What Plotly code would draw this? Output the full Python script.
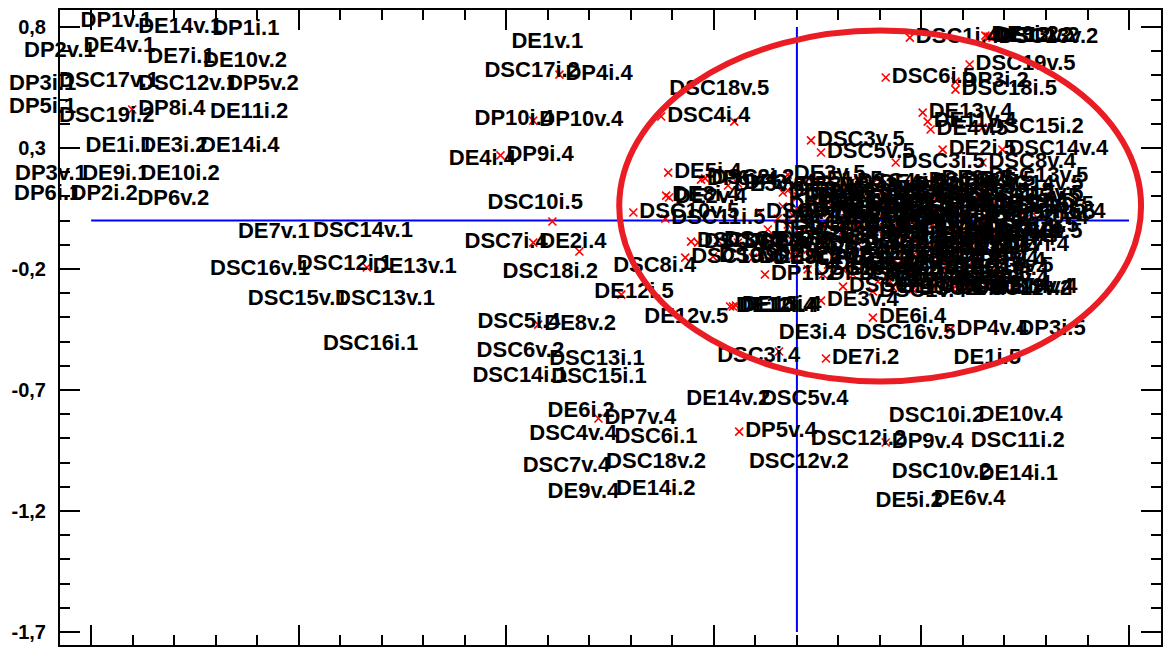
import plotly.graph_objects as go

# Sample labels and their scores on the first two components
labels = [
    # far-left group
    "DP1v.1", "DE14v.1", "DP1i.1", "DP2v.1", "DE4v.1", "DE7i.1", "DE10v.2",
    "DP3i.1", "DSC17v.1", "DSC12v.1", "DP5v.2", "DP5i.1", "DSC19i.2", "DP8i.4",
    "DE11i.2", "DE1i.1", "DE3i.2", "DE14i.4", "DP3v.1", "DE9i.1", "DE10i.2",
    "DP6i.1", "DP2i.2", "DP6v.2",
    "DE7v.1", "DSC14v.1", "DSC16v.1", "DSC12i.1", "DE13v.1", "DSC15v.1",
    "DSC13v.1", "DSC16i.1",
    # central group
    "DE1v.1", "DSC17i.2", "DP4i.4", "DP10i.4", "DP10v.4", "DE4i.4", "DP9i.4",
    "DSC10i.5", "DSC7i.4", "DE2i.4", "DSC18i.2", "DSC8i.4", "DE12i.5",
    "DE12v.5", "DSC5i.4", "DE8v.2", "DSC6v.2", "DSC13i.1", "DSC14i.1",
    "DSC15i.1", "DE6i.2", "DP7v.4", "DSC4v.4", "DSC6i.1", "DSC7v.4",
    "DSC18v.2", "DE9v.4", "DE14i.2", "DE14v.2", "DSC5v.4", "DP5v.4",
    "DSC12v.2",
    # lower-right group
    "DE3v.4", "DE6i.4", "DE3i.4", "DSC16v.5", "DP4v.4", "DP3i.5", "DE7i.2",
    "DE1i.5", "DSC10i.2", "DE10v.4", "DSC12i.2", "DP9v.4", "DSC11i.2",
    "DSC10v.2", "DE14i.1", "DE5i.2", "DE6v.4", "DSC3i.4",
    # edges of the right cluster
    "DP1i.2", "DP3i.4", "DE12i.4", "DE10i.4", "DE13i.4", "DSC19v.2",
    "DSC9i.5", "DSC3v.2", "DSC9v.2", "DSC18v.5", "DSC4i.4", "DSC3v.5",
    "DSC5v.5", "DE5i.4", "DE3v.5", "DP6v.4", "DP2v.4", "DE8i.4", "DE2v.4",
    "DSC10v.5", "DSC11i.5", "DSC9v.5", "DE8v.5", "DSC1i.4", "DE13i.2",
    "DE12v.2", "DSC13v.2", "DE9i.2", "DSC19v.5", "DSC6i.5", "DP3i.2",
    "DSC18i.5", "DE13v.4", "DE11v.4", "DSC15i.2", "DE4v.5", "DSC14v.4",
    "DE2i.5", "DSC3i.5", "DSC8v.4", "DE9v.5", "DSC13v.5", "DP10i.5",
    "DP6i.4", "DSC14v.2", "DP7i.4", "DSC17v.5", "DE14v.4", "DSC19v.4",
    "DP2i.4",
    "DSC2i.2", "DE3v.2", "DSC7i.2", "DSC5v.2", "DE7v.2", "DSC9i.2", "DE8i.2",
    # dense core of the right cluster
    "DE2v.5", "DSC2v.5", "DE4i.5", "DSC7i.5", "DE9i.5", "DP1v.5", "DSC3i.2",
    "DE11i.5", "DSC8v.5", "DP5i.5", "DSC12v.5", "DE1v.2", "DSC4v.2",
    "DE5v.2", "DP2i.5", "DSC9v.4", "DE10i.5", "DSC16i.5", "DP4v.5",
    "DSC1v.5", "DE6v.5", "DSC15v.5", "DE7v.5", "DSC2i.4", "DE11v.5",
    "DSC5i.5", "DP8v.5", "DE13v.5", "DSC13i.5", "DE2i.2", "DSC6v.4",
    "DP9i.5", "DE4v.2", "DSC16v.4", "DP10v.5", "DSC7v.2", "DE5v.5",
    "DSC8i.2", "DP7v.5", "DE14v.5", "DSC17i.4", "DE9v.2", "DSC1v.2",
    "DE3i.5", "DSC11v.5", "DP4i.5", "DE11i.4", "DSC2v.2", "DE13i.5",
    "DSC4i.2", "DE6v.2", "DSC14i.5", "DE8i.5", "DSC9i.4", "DE10v.5",
    "DSC5i.2", "DP6i.5",
    "DE1v.5", "DSC4v.5", "DE5i.5", "DSC6v.5", "DP2v.5", "DSC14v.5",
    "DE1i.4", "DSC7v.5", "DP3v.5", "DSC8i.5", "DE6i.5", "DSC12i.5", "DP5v.5",
    "DE7i.5", "DSC15i.5", "DP6v.5", "DSC17i.5", "DE14i.5", "DSC19i.5",
    "DP7i.5",
    "DSC1i.5", "DP8i.5", "DSC2i.5", "DE1v.4", "DSC4i.5", "DP9v.5",
    "DSC10i.4", "DP1i.5",
    "DE4v.4", "DSC10v.4", "DE5v.4", "DSC11i.4", "DE7i.4", "DSC11v.4",
    "DE7v.4", "DSC12i.4",
    "DE8v.4", "DSC12v.4", "DE9i.4", "DSC13i.4", "DE12v.4", "DSC13v.4",
    "DP1i.4", "DSC14i.4",
    "DP1v.4", "DSC15i.4", "DP3v.4", "DSC15v.4", "DP5i.4",
    "DSC16i.4", "DP8v.4", "DSC17v.4", "DSC18i.4", "DSC18v.4", "DSC19i.4",
    "DSC1v.4", "DSC2v.4", "DSC3v.4", "DSC11v.2",
]

pc1 = [
    -1.740, -1.601, -1.423, -1.877, -1.733, -1.579, -1.445,
    -1.913, -1.793, -1.601, -1.387, -1.913, -1.793, -1.601,
    -1.428, -1.728, -1.596, -1.452, -1.897, -1.736, -1.596,
    -1.901, -1.764, -1.603,
    -1.361, -1.180, -1.428, -1.219, -1.036, -1.337,
    -1.127, -1.156,
    -0.702, -0.767, -0.572, -0.791, -0.635, -0.853, -0.714,
    -0.589, -0.815, -0.635, -0.524, -0.457, -0.423,
    -0.382, -0.784, -0.623, -0.786, -0.611, -0.796,
    -0.606, -0.615, -0.478, -0.659, -0.454, -0.675,
    -0.474, -0.615, -0.450, -0.281, -0.101, -0.139,
    -0.130,
    0.058, 0.183, -0.058, 0.127, 0.370, 0.519, 0.070,
    0.363, 0.207, 0.423, 0.019, 0.214, 0.404,
    0.214, 0.423, 0.175, 0.315, -0.043,
    -0.077, 0.063, -0.161, -0.154, -0.147, -0.269,
    -0.106, -0.255, -0.142, -0.151, -0.327, 0.034,
    0.058, -0.310, -0.022, -0.231, -0.142, -0.315, -0.308,
    -0.394, -0.317, -0.089, -0.022, 0.272, 0.459,
    0.464, 0.471, 0.454, 0.416, 0.214, 0.382,
    0.382, 0.303, 0.315, 0.447, 0.322, 0.495,
    0.351, 0.238, 0.447, 0.334, 0.447, 0.214,
    0.567, 0.387, 0.375, 0.363, 0.459, 0.411,
    0.224,
    -0.221, -0.166, -0.238, -0.190, -0.106, -0.202, -0.070,
    -0.010, 0.087, 0.183, 0.267, 0.351, 0.002, 0.063,
    0.159, 0.243, 0.327, 0.435, -0.034, 0.038,
    0.111, 0.195, 0.279, 0.375, 0.471, -0.010,
    0.075, 0.159, 0.303, 0.411, -0.022, 0.063,
    0.147, 0.243, 0.327, 0.435, -0.010, 0.087,
    0.183, 0.267, 0.351, 0.471, -0.034, 0.063,
    0.147, 0.231, 0.315, 0.411, -0.010, 0.099,
    0.183, 0.279, 0.375, 0.075, 0.159, 0.243,
    0.135, 0.219, 0.303, 0.387, 0.111, 0.231,
    0.327, 0.375,
    0.019, 0.130, 0.219, 0.303, 0.387, 0.435,
    -0.034, 0.034, 0.111, 0.202, 0.291, 0.375, 0.495,
    0.002, 0.075, 0.154, 0.231, 0.327, 0.423,
    0.519,
    -0.046, 0.026, 0.115, 0.195, 0.267, 0.351,
    0.459, 0.543,
    -0.070, 0.014, 0.111, 0.207, 0.291, 0.387,
    0.435, 0.387,
    -0.058, 0.026, 0.111, 0.195, 0.279, 0.303,
    0.447, 0.339,
    0.038, 0.135, 0.231, 0.327, 0.423,
    0.026, 0.111, 0.195, 0.267, 0.351, 0.363,
    0.183, 0.279, 0.387, 0.411,
]

pc2 = [
    0.822, 0.798, 0.789, 0.698, 0.719, 0.674, 0.657,
    0.562, 0.574, 0.562, 0.562, 0.467, 0.430, 0.459,
    0.446, 0.306, 0.306, 0.306, 0.190, 0.190, 0.190,
    0.107, 0.107, 0.087,
    -0.050, -0.045, -0.202, -0.182, -0.194, -0.326,
    -0.326, -0.512,
    0.736, 0.616, 0.603, 0.417, 0.413, 0.252, 0.269,
    -0.004, -0.091, -0.091, -0.128, -0.190, -0.306,
    -0.401, -0.421, -0.430, -0.541, -0.574, -0.645,
    -0.649, -0.789, -0.818, -0.884, -0.897, -1.017,
    -1.000, -1.124, -1.112, -0.740, -0.740, -0.872,
    -1.000,
    -0.331, -0.401, -0.467, -0.467, -0.450, -0.450, -0.570,
    -0.570, -0.810, -0.806, -0.905, -0.917, -0.913,
    -1.041, -1.050, -1.161, -1.153, -0.541,
    -0.223, -0.223, -0.355, -0.355, -0.351, -0.153,
    -0.153, -0.087, -0.091, 0.409, 0.430, 0.331,
    0.281, 0.198, 0.190, 0.169, 0.153, 0.103, 0.095,
    0.033, 0.008, 0.033, 0.124, 0.756, 0.760,
    0.760, 0.756, 0.764, 0.645, 0.591, 0.574,
    0.541, 0.446, 0.409, 0.384, 0.376, 0.293,
    0.293, 0.240, 0.240, 0.169, 0.182, 0.025,
    0.033, -0.050, -0.099, -0.190, -0.277, -0.277,
    -0.252,
    0.174, 0.145, -0.091, -0.083, -0.095, -0.149, -0.157,
    0.145, 0.140, 0.153, 0.145, 0.136, 0.099, 0.107,
    0.095, 0.103, 0.099, 0.107, 0.058, 0.066,
    0.062, 0.058, 0.066, 0.058, 0.062, 0.021,
    0.029, 0.021, 0.029, 0.021, -0.017, -0.021,
    -0.012, -0.021, -0.017, -0.025, -0.058, -0.062,
    -0.054, -0.062, -0.058, -0.050, -0.103, -0.099,
    -0.095, -0.103, -0.099, -0.103, -0.145, -0.140,
    -0.136, -0.145, -0.140, -0.182, -0.186, -0.178,
    -0.223, -0.227, -0.219, -0.227, -0.273, -0.277,
    -0.269, -0.281,
    0.165, 0.157, 0.128, 0.161, 0.165, 0.149,
    0.116, 0.087, 0.116, 0.112, 0.091, 0.116, 0.095,
    0.045, 0.074, 0.045, 0.074, 0.045, 0.074,
    0.050,
    0.008, 0.037, 0.008, 0.033, 0.008, 0.037,
    0.008, 0.029,
    -0.037, -0.037, -0.041, -0.033, -0.037, -0.041,
    -0.033, -0.062,
    -0.083, -0.120, -0.079, -0.120, -0.079, -0.120,
    -0.079, -0.112,
    -0.161, -0.161, -0.161, -0.161, -0.169,
    -0.202, -0.202, -0.252, -0.202, -0.244, -0.202,
    -0.293, -0.285, -0.264, -0.285,
]

tick_vals = [-1.7, -1.2, -0.7, -0.2, 0.3, 0.8]
tick_text = ["-1,7", "-1,2", "-0,7", "-0,2", "0,3", "0,8"]

# crosses that sit underneath neighbouring labels and are not drawn
no_cross = {
    "DP1v.1", "DE14v.1", "DP1i.1", "DE4v.1", "DE7i.1", "DE10v.2",
    "DSC12v.1", "DP5v.2", "DE11i.2", "DE1i.1", "DE3i.2", "DE14i.4",
    "DE9i.1", "DE10i.2", "DP2i.2", "DP6v.2",
    "DE7v.1", "DSC14v.1", "DSC16v.1", "DSC12i.1", "DSC15v.1", "DSC13v.1",
    "DSC16i.1", "DE1v.1", "DSC17i.2", "DP10i.4", "DE4i.4", "DSC7i.4",
    "DSC8i.4", "DE12v.5", "DSC5i.4", "DSC6v.2", "DSC13i.1", "DSC14i.1",
    "DSC15i.1", "DE6i.2", "DSC4v.4", "DSC6i.1", "DSC7v.4", "DSC18v.2",
    "DE9v.4", "DE14i.2", "DE14v.2", "DSC5v.4", "DSC12v.2",
    "DE3i.4", "DSC16v.5", "DP3i.5", "DE1i.5", "DSC10i.2", "DE10v.4",
    "DSC12i.2", "DSC11i.2", "DSC10v.2", "DE14i.1", "DE5i.2", "DE6v.4",
}

# labels displaced from their cross: (right, down) shift in pixels
label_nudge = {
    "DSC10i.5": (-65, -18),
    "DSC18v.5": (-65, -32),
    "DE12i.5": (-27, -2),
    "DSC18i.2": (-77, 21),
    "DSC3i.4": (-62, 5),
}

# reference axes through the origin and the highlighted group
axis_span = (-1.7, 0.8)
group_x = (-0.428, 0.829)
group_y = (-0.665, 0.785)

x_range = [-1.775, 0.877]
y_range = [-1.754, 0.87]
fig_w, fig_h = 1164, 647
margins = dict(l=60, r=1, t=10, b=2)
x_per_px = (x_range[1] - x_range[0]) / (fig_w - margins["l"] - margins["r"])
y_per_px = (y_range[1] - y_range[0]) / (fig_h - margins["t"] - margins["b"])

label_font = "Liberation Sans, Arial, sans-serif"
cross_red = "#ff0000"
text_style = dict(family=label_font, size=22, color="#000000", weight="bold")

cross_colors = ["rgba(0,0,0,0)" if name in no_cross else cross_red
                for name in labels]

main_text = []
nudged_x, nudged_y, nudged_text = [], [], []
margin_labels = []  # scores left of the frame: their names hang in the margin
for name, x, y in zip(labels, pc1, pc2):
    if name in label_nudge:
        dx, dy = label_nudge[name]
        nudged_x.append(x + dx * x_per_px)
        nudged_y.append(y - dy * y_per_px)
        nudged_text.append(name)
        main_text.append("")
    elif x < x_range[0]:
        margin_labels.append((name, x, y))
        main_text.append("")
    else:
        main_text.append(name)

fig = go.Figure()

# red crosses, clipped to the plotting frame
fig.add_trace(go.Scatter(
    x=pc1, y=pc2, mode="markers",
    marker=dict(symbol="x-thin", size=8, color=cross_colors,
                line=dict(width=1.6, color=cross_colors)),
    cliponaxis=True, hoverinfo="skip", showlegend=False,
))

# sample names, drawn to the right of each cross
fig.add_trace(go.Scatter(
    x=pc1, y=pc2, mode="markers+text", text=main_text,
    textposition="middle right", textfont=text_style,
    marker=dict(size=8, opacity=0),
    cliponaxis=False, hoverinfo="skip", showlegend=False,
))

# names placed away from their crosses
fig.add_trace(go.Scatter(
    x=nudged_x, y=nudged_y, mode="text", text=nudged_text,
    textposition="middle right", textfont=text_style,
    cliponaxis=False, hoverinfo="skip", showlegend=False,
))

# names of scores beyond the left edge of the frame
for name, x, y in margin_labels:
    fig.add_annotation(
        text=name, xref="paper", yref="y",
        x=(x - x_range[0]) / (x_range[1] - x_range[0]), y=y,
        xanchor="left", yanchor="middle", xshift=4, yshift=2,
        showarrow=False, font=text_style,
    )

fig.add_shape(type="line", x0=axis_span[0], x1=axis_span[1], y0=0, y1=0,
              xref="x", yref="y", line=dict(color="#0000ff", width=2),
              layer="below")
fig.add_shape(type="line", x0=0, x1=0, y0=axis_span[0], y1=axis_span[1],
              xref="x", yref="y", line=dict(color="#0000ff", width=2),
              layer="below")
fig.add_shape(type="circle", x0=group_x[0], x1=group_x[1],
              y0=group_y[0], y1=group_y[1], xref="x", yref="y",
              line=dict(color="#ea1c24", width=6), layer="above")

axis_common = dict(
    showline=True, linecolor="#000000", linewidth=2, mirror="allticks",
    ticks="inside", ticklen=20, tickwidth=2, tickcolor="#000000",
    tickvals=tick_vals, ticktext=tick_text,
    showgrid=False, zeroline=False, fixedrange=True,
    minor=dict(ticks="inside", ticklen=10, tickwidth=1.5,
               tickcolor="#000000", tickmode="linear", tick0=-1.7,
               dtick=0.1, showgrid=False),
)

fig.update_layout(
    width=fig_w, height=fig_h,
    margin=margins,
    paper_bgcolor="#ffffff", plot_bgcolor="#ffffff",
    xaxis=dict(range=x_range, showticklabels=False, **axis_common),
    yaxis=dict(range=y_range, showticklabels=True,
               tickfont=dict(family=label_font, size=20, color="#000000",
                             weight="bold"),
               ticklabelstandoff=8, **axis_common),
)

fig.write_html("out.html")
